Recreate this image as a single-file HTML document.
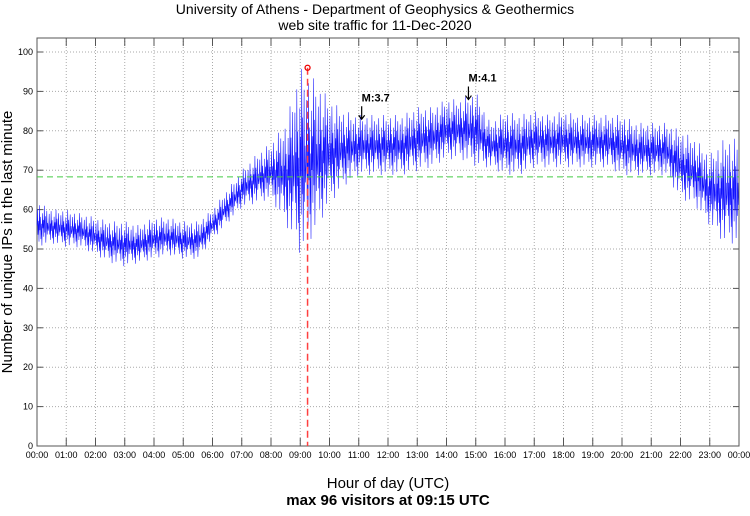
<!DOCTYPE html>
<html><head><meta charset="utf-8"><style>
body{margin:0;background:#fff;}
svg text{font-family:"Liberation Sans",sans-serif;}
</style></head><body>
<svg id="c" width="750" height="511" xmlns="http://www.w3.org/2000/svg">
<text x="375" y="14" text-anchor="middle" font-size="14">University of Athens - Department of Geophysics &amp; Geothermics</text>
<text x="375" y="30" text-anchor="middle" font-size="14">web site traffic for 11-Dec-2020</text>
<text x="388" y="488" text-anchor="middle" font-size="15">Hour of day (UTC)</text>
<text x="388" y="505" text-anchor="middle" font-size="15" font-weight="bold">max 96 visitors at 09:15 UTC</text>
<text transform="translate(12,242) rotate(-90)" text-anchor="middle" font-size="15">Number of unique IPs in the last minute</text>
<g id="grid"></g><g id="series"></g><g id="over"></g>
</svg>
<script>
const hourLabels=["00:00","01:00","02:00","03:00","04:00","05:00","06:00","07:00","08:00","09:00","10:00","11:00","12:00","13:00","14:00","15:00","16:00","17:00","18:00","19:00","20:00","21:00","22:00","23:00","00:00"];
const yTicks=[0,10,20,30,40,50,60,70,80,90,100];
// per 30-minute low/high envelope of visitors
const lows=[50,51,50,50,48,46,45,46,47,48,47,47,52,56,60,61,62,55,46,52,60,65,68,68,68,68,69,70,72,72,70,70,68,68,70,70,70,70,70,70,68,68,68,68,62,60,55,50];
const highs=[62,60,60,59,58,57,57,56,58,58,57,57,60,65,70,74,77,82,96,93,88,85,84,84,84,84,86,86,88,88,90,82,85,84,85,84,85,84,84,84,84,82,82,82,80,78,74,78];
const maxValue=96, maxHour=9.25, avgLine=68.3;
const events=[{label:"M:3.7",hour:11.1,value:87.5},{label:"M:4.1",hour:14.75,value:92.5}];
const L=37,R=739,T=38,B=446;
const xs=h=>L+(R-L)*h/24;
const ys=v=>B-v*3.94;
const NS="http://www.w3.org/2000/svg";
function mk(p,t,a){const e=document.createElementNS(NS,t);for(const k in a)e.setAttribute(k,a[k]);p.appendChild(e);return e;}
const g=document.getElementById('grid');
yTicks.forEach(v=>{
 const y=ys(v);
 if(v>0){const l=mk(g,'line',{x1:L,x2:R,y1:y,y2:y,stroke:'#aaa','stroke-dasharray':'1,2'});
 
 }
 mk(g,'line',{x1:L,x2:L+6,y1:y,y2:y,stroke:'#555'});
 mk(g,'line',{x1:R-6,x2:R,y1:y,y2:y,stroke:'#555'});
 const t=mk(g,'text',{x:L-4,y:y+3,'text-anchor':'end','font-size':9});t.textContent=v;
 
 
});
hourLabels.forEach((s,i)=>{
 const x=xs(i);
 if(i>0&&i<24){const l=mk(g,'line',{x1:x,x2:x,y1:T,y2:B,stroke:'#aaa','stroke-dasharray':'1,2'});
 
 }
 mk(g,'line',{x1:x,x2:x,y1:B-8,y2:B,stroke:'#555'});
 mk(g,'line',{x1:x,x2:x,y1:T,y2:T+8,stroke:'#555'});
 const t=mk(g,'text',{x:x,y:B+12,'text-anchor':'middle','font-size':9});t.textContent=s;
 
 
});
const fr=mk(g,'rect',{x:L,y:T,width:R-L,height:B-T,fill:'none',stroke:'#555'});


// series: zigzag between envelope at 1-minute steps
const pat=[0.5,0.85,0.3,0.6,0.15,0.95,0.4,0.7,0.2,0.55,0.05,0.8,0.45,0.65,0.25,1,0.35,0.75,0.1,0.5,0.9,0.3,0.6,0.4];
let d='';
for(let m=0;m<1440;m++){
 const f=m/30, i=Math.min(lows.length-1,Math.floor(f)), j=Math.min(lows.length-1,i+1), w=f-Math.floor(f);
 const lo=lows[i]*(1-w)+lows[j]*w, hi=highs[i]*(1-w)+highs[j]*w;
 const v=lo+(hi-lo)*pat[m%pat.length];
 d+=(m?'L':'M')+xs(m/60).toFixed(1)+','+ys(v).toFixed(1);
}
const p=mk(document.getElementById('series'),'path',{d:d,fill:'none',stroke:'#1010ff','stroke-width':0.55});


const o=document.getElementById('over');
const av=mk(o,'line',{x1:L,x2:R,y1:ys(avgLine),y2:ys(avgLine),stroke:'#4c4','stroke-dasharray':'6,4'});


const ml=mk(o,'line',{x1:xs(maxHour),x2:xs(maxHour),y1:ys(maxValue),y2:B,stroke:'#ff4040','stroke-width':1.5,'stroke-dasharray':'7,4'});


const mc=mk(o,'circle',{cx:xs(maxHour),cy:ys(maxValue),r:2.5,fill:'none',stroke:'#e00','stroke-width':1.3});


events.forEach(e=>{
 const x=xs(e.hour),y=ys(e.value);
 const t=mk(o,'text',{x:x,y:y,'font-size':11,'font-weight':'bold'});t.textContent=e.label;
 
 
 const a=mk(o,'path',{d:`M${x},${y+5}V${y+18}M${x-3},${y+14}L${x},${y+18}L${x+3},${y+14}`,fill:'none',stroke:'#000','stroke-width':1.2});
 
 
});
</script>
</body></html>
